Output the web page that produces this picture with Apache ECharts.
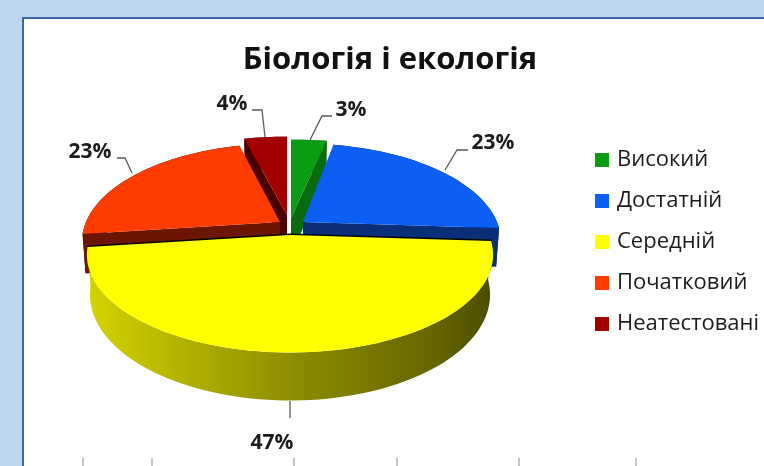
<!DOCTYPE html>
<html><head><meta charset="utf-8">
<style>html,body{margin:0;padding:0;background:#bdd5ee}#c{width:764px;height:466px}</style>
<script src="https://cdn.jsdelivr.net/npm/echarts@6/dist/echarts.min.js"></script>
</head><body><div id="c"></div>
<script>
const categories = ['Високий','Достатній','Середній','Початковий','Неатестовані'];
const values = [3,23,47,23,4];
const titleText = 'Біологія і екологія';

const topColors = ['#0a9c12','#0b5ff5','#ffff00','#ff3c00','#a30000'];
const wallColors = ['#0a6a10','#0a2f78','#8c8c00','#6c1500','#4a0000'];
const rimColors = ['#0a6a10','#08184e','#8c8c00','#0c0200','#300000'];
const apex = [[291,218],[303,222],[290,235],[280,222],[287,215]];
const radii = [228,194,199,194,205];
const drawOrder = [2,3,5,3,1];
const labelPos = [[351,110],[493,143],[272,443],[90,152],[232,104]];
const leaders = [
  [[310,140],[322,116],[332,116]],
  [[445,170],[457,150],[468,150]],
  [[290,401],[290,418]],
  [[132,173],[125,158],[117,158]],
  [[265,137],[262,110],[252,110]]
];
const bottomTicks = [83,152,294,397,519,636];

const K=0.2, H=94, T=38.4, total=values.reduce((a,b)=>a+b,0);
function pt(i,deg,low){
  const t=deg*Math.PI/180,u=Math.sin(t),v=-Math.cos(t),w=1/(1-K*v);
  return [apex[i][0]+radii[i]*u*w*(low?0.985:1), apex[i][1]+H*v*w+(low?T*w:0)];
}
function arc(i,a,b,low){const n=Math.max(4,Math.ceil(Math.abs(b-a)/2)),r=[];
  for(let s=0;s<=n;s++)r.push(pt(i,a+(b-a)*s/n,low));return r;}
function shiftY(p,d){return p.map(q=>[q[0],q[1]+d]);}

function renderer(i){
  return function(params,api){
    const before=values.slice(0,i).reduce((a,b)=>a+b,0);
    const a=before/total*360, b=a+api.value(0)/total*360;
    const A=apex[i], topArc=arc(i,a,b,false), kids=[];
    const lowA=[A[0],A[1]+T];
    const poly=(pts,fill)=>kids.push({type:'polygon',shape:{points:pts},style:{fill:fill}});
    if(i===2){
      poly(topArc.concat(arc(i,b,a,true)),new echarts.graphic.LinearGradient(0,0,1,0,[
        {offset:0,color:'#d4d400'},{offset:.15,color:'#bebe00'},{offset:.5,color:'#8e8e00'},
        {offset:.85,color:'#666600'},{offset:1,color:'#4c4c00'}]));
      poly(shiftY([A].concat(topArc),-1.5),'#050505');
    } else {
      poly(topArc.concat(arc(i,b,a,true)),rimColors[i]);
      [a,b].forEach(d=>{const R=pt(i,d,false),L=pt(i,d,true);
        if((i===3&&d===a)||(i===1&&d===b)||(i===0&&d===b)||(i===4&&d===a))
          poly([A,R,L,lowA],wallColors[i]);});
    }
    poly([A].concat(topArc),topColors[i]);
    return {type:'group',children:kids};
  };
}
function labelRenderer(params,api){
  const i=params.dataIndex,kids=[];
  kids.push({type:'polyline',shape:{points:leaders[i]},style:{fill:'none',stroke:'#5a5a5a',lineWidth:1.3}});
  kids.push({type:'text',style:{x:labelPos[i][0],y:labelPos[i][1],text:api.value(0)+'%',
    font:'bold 21px "Open Sans"',fill:'#1c1c1c',align:'center',verticalAlign:'middle'}});
  return {type:'group',children:kids};
}
const series=categories.map((name,i)=>({
  type:'custom',name:name,coordinateSystem:'none',z:drawOrder[i],silent:true,
  itemStyle:{color:topColors[i]},data:[[values[i]]],renderItem:renderer(i)
}));
series.push({type:'custom',name:'labels',coordinateSystem:'none',z:9,silent:true,
  data:values.map(v=>[v]),renderItem:labelRenderer});

const chart=echarts.init(document.getElementById('c'),null,{renderer:'canvas'});
chart.setOption({
  animation:false,
  backgroundColor:'#bdd5ee',
  title:{text:titleText,left:385,textAlign:'center',top:40,
    textStyle:{fontFamily:'"Open Sans"',fontWeight:'bold',fontSize:31,color:'#111'}},
  legend:{data:categories,orient:'vertical',left:590,top:144,icon:'rect',itemWidth:14,itemHeight:14,itemGap:19,itemStyle:{borderWidth:0},
    selectedMode:false,textStyle:{fontFamily:'"Open Sans"',fontSize:22,color:'#1c1c1c',lineHeight:17,padding:[0,0,0,3]}},
  graphic:[
    {type:'rect',z:-2,shape:{x:22,y:17,width:742,height:449},style:{fill:'#3a66ab'}},
    {type:'rect',z:-1,shape:{x:24,y:19,width:740,height:447},style:{fill:'#ffffff'}}
  ].concat(bottomTicks.map(x=>({type:'line',z:-1,shape:{x1:x,y1:458,x2:x,y2:466},style:{stroke:'#8a8a8a',lineWidth:1}}))),
  series:series
});
</script></body></html>
